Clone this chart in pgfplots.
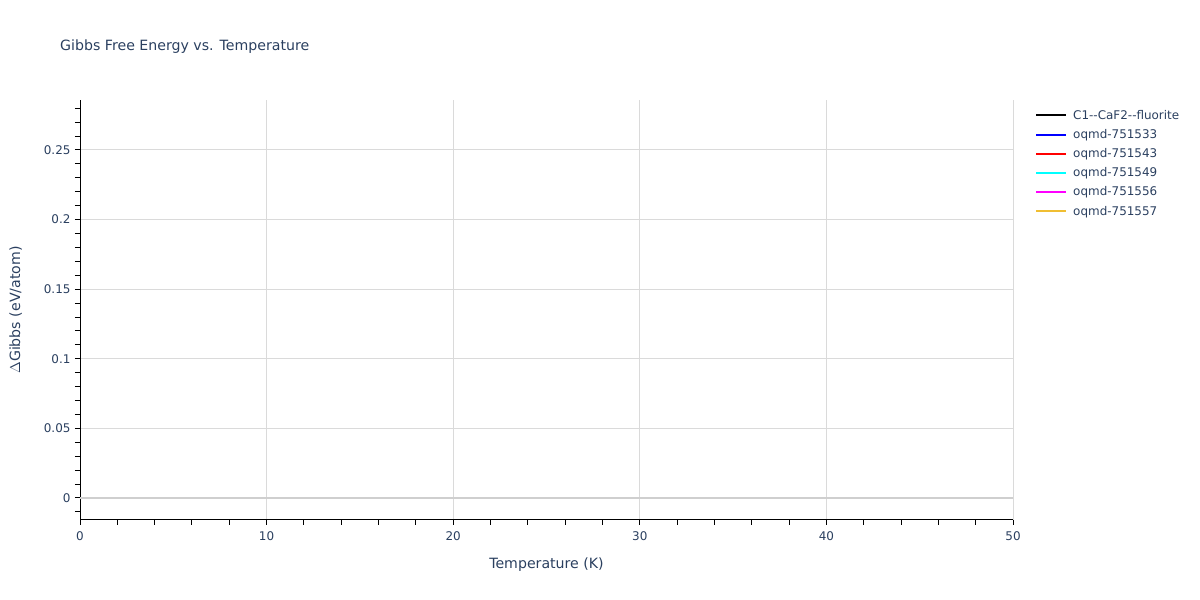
\documentclass[border=0pt]{standalone}
\usepackage{pgfplots}
\pgfplotsset{compat=1.18}
\usepackage{fontspec}
\setmainfont{DejaVu Sans}
\definecolor{plotlytext}{HTML}{2A3F5F}
\definecolor{gridc}{HTML}{DADADA}
\definecolor{zeroc}{HTML}{CFCFCF}
\definecolor{gold}{HTML}{F0BE32}
\definecolor{aqua}{HTML}{00FFFF}
\definecolor{fuchsia}{HTML}{FF00FF}
\begin{document}
\begin{tikzpicture}[x=1bp,y=1bp]
\path[use as bounding box] (0,0) rectangle (1200,600);
\node[anchor=west,text=plotlytext,font=\fontsize{14.2}{17}\selectfont,inner sep=0] at (60,553) {Gibbs Free Energy vs. Temperature};
\begin{axis}[
    at={(80bp,80bp)}, anchor=south west,
    scale only axis, width=933bp, height=420bp,
    xmin=0, xmax=50, ymin=-0.0158, ymax=0.2859,
    xtick={0,10,...,50}, ytick={0,0.05,...,0.25},
    minor xtick={2,4,6,8,12,14,16,18,22,24,26,28,32,34,36,38,42,44,46,48},
    minor ytick={-0.01,0.01,0.02,0.03,0.04,0.06,0.07,0.08,0.09,0.11,0.12,0.13,0.14,0.16,0.17,0.18,0.19,0.21,0.22,0.23,0.24,0.26,0.27,0.28},
    yticklabel style={/pgf/number format/fixed,/pgf/number format/precision=2,xshift=-1bp},
    xticklabel style={yshift=-3bp},
    /pgf/number format/assume math mode=true,
    tick align=outside, tick pos=left,
    major tick length=5bp, minor tick length=5bp,
    every tick/.style={black,line width=1bp},
    xmajorgrids, ymajorgrids,
    major grid style={gridc,line width=1bp},
    axis x line*=bottom, axis y line*=left,
    axis line style={black,line width=1bp,-},
    ticklabel style={text=plotlytext,font=\fontsize{12}{14}\selectfont},
    xlabel={Temperature (K)}, ylabel={$\Delta$Gibbs (eV/atom)},
    label style={text=plotlytext,font=\fontsize{14.2}{16}\selectfont},
    xlabel style={at={(axis description cs:0.5,0)},anchor=north,yshift=-34bp},
    ylabel style={yshift=15bp},
    legend style={at={(rel axis cs:1,1)},anchor=north west,xshift=22bp,yshift=-8bp,
        draw=none,fill=none,inner sep=0pt,
        font=\fontsize{12}{14}\selectfont,text=plotlytext,
        /tikz/every odd column/.append style={column sep=4bp},
        row sep=4.6bp},
    legend cell align=left,
    legend image code/.code={\draw[#1,line width=2bp] (0bp,0bp) -- (30bp,0bp);},
    clip=false,
]
\addplot[zeroc,line width=2bp,forget plot] coordinates {(0,0) (50,0)};
\addlegendimage{black}
\addlegendentry{C1{-}{-}CaF2{-}{-}fluorite}
\addlegendimage{blue}
\addlegendentry{oqmd-751533}
\addlegendimage{red}
\addlegendentry{oqmd-751543}
\addlegendimage{aqua}
\addlegendentry{oqmd-751549}
\addlegendimage{fuchsia}
\addlegendentry{oqmd-751556}
\addlegendimage{gold}
\addlegendentry{oqmd-751557}
\end{axis}
\end{tikzpicture}
\end{document}
